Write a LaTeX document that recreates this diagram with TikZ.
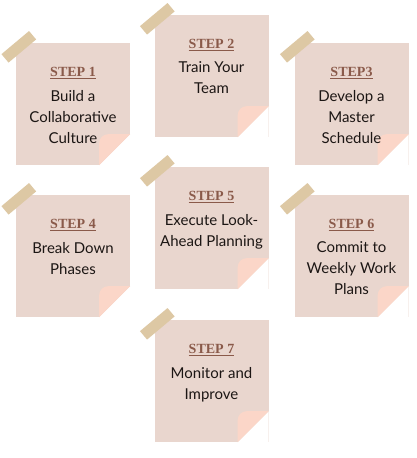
\documentclass[tikz,border=0pt]{standalone}
\usepackage{fontspec}
\newfontfamily\titlefont{Liberation Serif}
\newfontfamily\bodyfont{Lato}

\definecolor{notefill}{HTML}{E9D6CE}
\definecolor{curlfill}{HTML}{FBD6C8}
\definecolor{tapefill}{HTML}{DDC8A4}
\definecolor{steptext}{HTML}{8A5A4A}
\definecolor{bodytext}{HTML}{1C1614}

\tikzset{
	notepicture/.style = {
		x = 1pt,
		y = -1pt,
	},
	note/.style = {
		rectangle,
		fill = notefill,
		minimum width = 114pt,
		minimum height = 122pt,
		inner sep = 0pt
	},
	steptitle/.style = {
		font = \titlefont\bfseries\fontsize{14}{16}\selectfont,
		text = steptext
	},
	stepbody/.style = {
		font = \bodyfont\fontsize{15}{21}\selectfont,
		text = bodytext,
		align = center,
		anchor = north,
		inner sep = 0pt
	},
	tape/.style = {
		rectangle,
		fill = tapefill,
		minimum width = 36pt,
		minimum height = 11pt,
		inner sep = 0pt,
		rotate = 40
	},
	curl/.style = {
		fill = curlfill
	}
}

\begin{document}
\begin{tikzpicture}[notepicture]
	\useasboundingbox[fill = white] (0,0) rectangle (417,458);

	\node[note] (N1) at (73,104) {};
	\node[note] (N2) at (211.5,76) {};
	\node[note] (N3) at (351.5,104) {};
	\node[note] (N4) at (73,256) {};
	\node[note] (N5) at (211.5,228) {};
	\node[note] (N6) at (351.5,256) {};
	\node[note] (N7) at (211.5,381) {};

	% folded corners and tape strips
	\foreach \n in {1,...,7} {
		\fill[white] ([yshift = 31pt]N\n.south east) -- (N\n.south east)
			-- ([xshift = -31pt]N\n.south east) -- cycle;
		\path[curl] ([yshift = 31pt]N\n.south east)
			[rounded corners = 9pt] -- ([shift = {(-31pt,31pt)}]N\n.south east)
			[sharp corners] -- ([xshift = -31pt]N\n.south east) -- cycle;
		\node[tape] (tape\n) at ([shift = {(3pt,-4pt)}]N\n.north west) {};
	}

	\node[steptitle] (T1) at ([yshift = -30pt]N1.north) {\underline{STEP 1}};
	\node[steptitle] (T2) at ([yshift = -30pt]N2.north) {\underline{STEP 2}};
	\node[steptitle] (T3) at ([yshift = -30pt]N3.north) {\underline{STEP3}};
	\node[steptitle] (T4) at ([yshift = -30pt]N4.north) {\underline{STEP 4}};
	\node[steptitle] (T5) at ([yshift = -30pt]N5.north) {\underline{STEP 5}};
	\node[steptitle] (T6) at ([yshift = -30pt]N6.north) {\underline{STEP 6}};
	\node[steptitle] (T7) at ([yshift = -30pt]N7.north) {\underline{STEP 7}};

	\node[stepbody] (B1) at ([yshift = -47pt]N1.north) {Build a\\Collaborative\\Culture};
	\node[stepbody] (B2) at ([yshift = -47pt]N2.north) {Train Your\\Team};
	\node[stepbody] (B3) at ([yshift = -47pt]N3.north) {Develop a\\Master\\Schedule};
	\node[stepbody] (B4) at ([yshift = -47pt]N4.north) {Break Down\\Phases};
	\node[stepbody] (B5) at ([yshift = -47pt]N5.north) {Execute Look-\\Ahead Planning};
	\node[stepbody] (B6) at ([yshift = -47pt]N6.north) {Commit to\\Weekly Work\\Plans};
	\node[stepbody] (B7) at ([yshift = -47pt]N7.north) {Monitor and\\Improve};
\end{tikzpicture}
\end{document}
